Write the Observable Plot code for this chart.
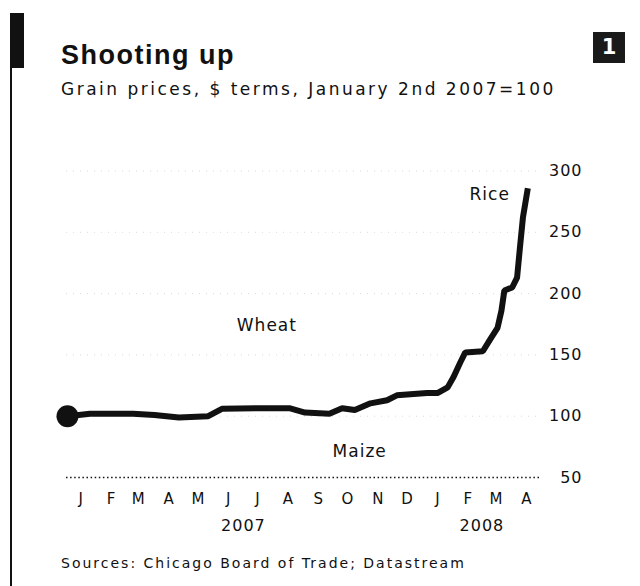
<!DOCTYPE html>
<html>
<head>
<meta charset="utf-8">
<script src="https://cdn.jsdelivr.net/npm/d3@7"></script>
<script src="https://cdn.jsdelivr.net/npm/@observablehq/plot@0.6"></script>
<style>
  html, body { margin: 0; padding: 0; background: #fff; }
  body { width: 640px; height: 586px; position: relative; overflow: hidden; font-family: "DejaVu Sans", sans-serif; color: #111; }
  #barThick { position: absolute; left: 10px; top: 13px; width: 14px; height: 55px; background: #111; z-index: 5; }
  #barThin { position: absolute; left: 10px; top: 13px; width: 2px; height: 573px; background: #111; z-index: 5; }
  #num { position: absolute; left: 593px; top: 32px; width: 32px; height: 31px; background: #1a1a1a; color: #fff; font: bold 21px "DejaVu Sans", sans-serif; text-align: center; line-height: 31px; z-index: 5; }
  #title { position: absolute; left: 61px; top: 42px; font: bold 27px "Liberation Sans", sans-serif; line-height: 27px; letter-spacing: 1.5px; white-space: nowrap; }
  #subtitle { position: absolute; left: 61px; top: 81px; font: 17px "DejaVu Sans", sans-serif; line-height: 17px; letter-spacing: 2.5px; white-space: nowrap; }
  #chart { position: absolute; left: 0; top: 140px; z-index: 1; }
  #source { position: absolute; left: 61px; top: 556px; font: 14px "DejaVu Sans", sans-serif; line-height: 14px; letter-spacing: 2px; white-space: nowrap; }
</style>
</head>
<body>
<div id="barThin"></div>
<div id="barThick"></div>
<div id="num">1</div>
<div id="title">Shooting up</div>
<div id="subtitle">Grain prices, $ terms, January 2nd 2007=100</div>
<div id="chart"></div>
<div id="source">Sources: Chicago Board of Trade; Datastream</div>
<script>
// ---- data ----
const riceDates = [
  "2007-01-02","2007-01-25","2007-03-10","2007-04-01","2007-04-26","2007-05-26",
  "2007-06-09","2007-07-17","2007-08-17","2007-09-02","2007-09-27","2007-10-10",
  "2007-10-23","2007-11-08","2007-11-25","2007-12-05","2008-01-05","2008-01-16",
  "2008-01-26","2008-02-01","2008-02-08","2008-02-13","2008-03-02","2008-03-09",
  "2008-03-17","2008-03-21","2008-03-24","2008-04-01","2008-04-06","2008-04-09",
  "2008-04-12","2008-04-17"
];
const riceValues = [
  100, 102, 102, 101, 99, 100,
  106, 106.5, 106.5, 103, 102, 106.5,
  105, 110.5, 113, 117, 119, 119,
  123.5, 132, 144, 152, 153, 162,
  172, 186, 202.5, 205, 213, 238,
  262, 286
];
const yTicks = [50, 100, 150, 200, 250, 300];
const monthLabels = ["J","F","M","A","M","J","J","A","S","O","N","D","J","F","M","A"];
const yearLabels = ["2007", "2008"];
const yearCentres = ["2007-07-01", "2008-03-01"];
const seriesNames = ["Rice", "Wheat", "Maize"];
const seriesLabelDates = ["2008-03-09", "2007-07-25", "2007-10-28"];
const seriesLabelValues = [281, 174, 71];

// ---- tables built from the arrays ----
const rice = riceDates.map((d, i) => ({date: new Date(d), value: riceValues[i]}));
const start = new Date("2007-01-01");
const months = monthLabels.map((label, i) => ({
  date: d3.utcDay.offset(d3.utcMonth.offset(start, i), 15), label
}));
const years = yearLabels.map((label, i) => ({date: new Date(yearCentres[i]), label}));
const seriesLabels = seriesNames.map((name, i) => ({
  name, date: new Date(seriesLabelDates[i]), value: seriesLabelValues[i]
}));

const chart = Plot.plot({
  width: 640,
  height: 405,
  marginLeft: 66,
  marginRight: 99,
  marginTop: 30.5,
  marginBottom: 68,
  x: {type: "utc", domain: [new Date("2007-01-01"), new Date("2008-05-01")], axis: null},
  y: {domain: [50, 300], axis: null},
  style: {fontFamily: "DejaVu Sans, sans-serif", color: "#111", background: "transparent", letterSpacing: "1px"},
  marks: [
    Plot.ruleY(yTicks.filter(v => v > 50), {stroke: "#000", strokeOpacity: 0.15, strokeDasharray: "1,6"}),
    Plot.ruleY([50], {stroke: "#111", strokeWidth: 1.3, strokeDasharray: "1.5,2.6"}),
    Plot.line(rice, {x: "date", y: "value", stroke: "#111", strokeWidth: 6, strokeLinejoin: "miter", strokeLinecap: "butt"}),
    Plot.dot(rice.slice(0, 1), {x: "date", y: "value", r: 11, fill: "#111", stroke: "none"}),
    Plot.text(yTicks, {y: d => d, text: d => String(d), frameAnchor: "right", dx: 41, textAnchor: "end", fontSize: 16}),
    Plot.text(months, {x: "date", text: "label", frameAnchor: "bottom", dy: 26, fontSize: 15}),
    Plot.text(years, {x: "date", text: "label", frameAnchor: "bottom", dy: 53, fontSize: 16}),
    Plot.text(seriesLabels, {x: "date", y: "value", text: "name", fontSize: 17})
  ]
});
document.getElementById("chart").appendChild(chart);
</script>
</body>
</html>
